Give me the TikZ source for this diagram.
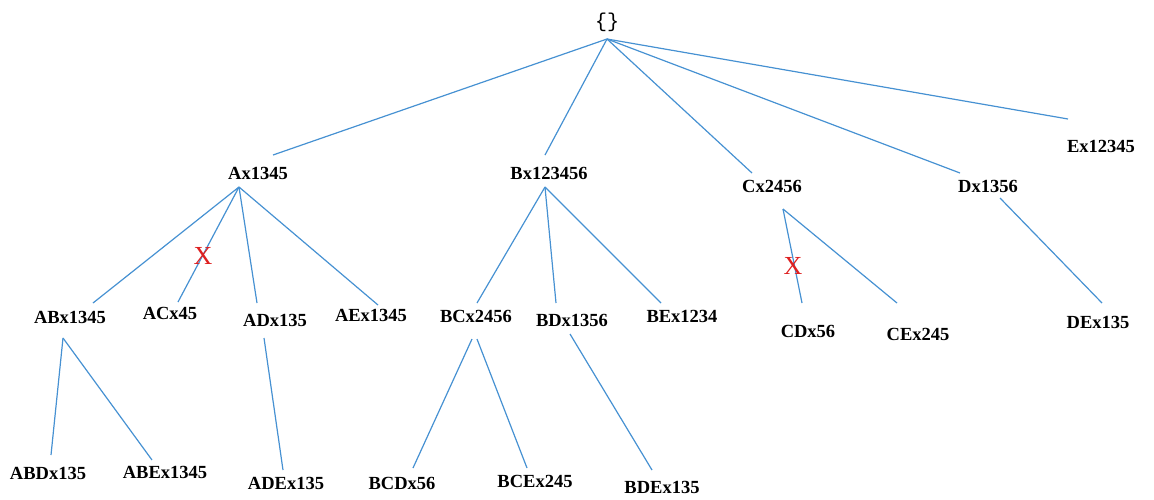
\documentclass[tikz,border=0pt]{standalone}
\usepackage{fontspec}
\setmainfont{Liberation Serif}
\newfontfamily\bracefont{Liberation Mono}
\begin{document}
\begin{tikzpicture}[x=1pt,y=-1pt,
  lbl/.style={inner sep=0pt,anchor=center,font=\fontsize{18.5}{22}\selectfont\bfseries},
  cut/.style={inner sep=0pt,anchor=center,text={rgb,255:red,222;green,32;blue,32},font=\fontsize{26}{28}\selectfont},
  edge/.style={draw={rgb,255:red,70;green,145;blue,210},line width=1.2pt}]
\useasboundingbox (0,0) rectangle (1154,499);

% labels
\node[inner sep=0pt,font=\bracefont\fontsize{20}{22}\selectfont] (root) at (607,22) {\{\}};
\node[lbl] (A) at (258,173) {Ax1345};
\node[lbl] (B) at (549,173) {Bx123456};
\node[lbl] (C) at (772,186) {Cx2456};
\node[lbl] (D) at (988,186) {Dx1356};
\node[lbl] (E) at (1101,146) {Ex12345};
\node[lbl] (AB) at (70,317) {ABx1345};
\node[lbl] (AC) at (170,313) {ACx45};
\node[lbl] (AD) at (275,320) {ADx135};
\node[lbl] (AE) at (371,315) {AEx1345};
\node[lbl] (BC) at (476,316) {BCx2456};
\node[lbl] (BD) at (572,320) {BDx1356};
\node[lbl] (BE) at (682,316) {BEx1234};
\node[lbl] (CD) at (808,331) {CDx56};
\node[lbl] (CE) at (918,334) {CEx245};
\node[lbl] (DE) at (1098,322) {DEx135};
\node[lbl] (ABD) at (48,473) {ABDx135};
\node[lbl] (ABE) at (165,472) {ABEx1345};
\node[lbl] (ADE) at (286,483) {ADEx135};
\node[lbl] (BCD) at (402,483) {BCDx56};
\node[lbl] (BCE) at (535,481) {BCEx245};
\node[lbl] (BDE) at (662,487) {BDEx135};

% connector end points
\coordinate (root-o) at (607,39);
\coordinate (A-i) at (273,155);
\coordinate (B-i) at (545,155);
\coordinate (C-i) at (752,173);
\coordinate (D-i) at (960,173);
\coordinate (E-i) at (1068,119);
\coordinate (A-o) at (239,187);
\coordinate (AB-i) at (93,303);
\coordinate (AC-i) at (178,302);
\coordinate (AD-i) at (257,303);
\coordinate (AE-i) at (378,305);
\coordinate (AB-o) at (63,338);
\coordinate (ABD-i) at (51,455);
\coordinate (ABE-i) at (152,460);
\coordinate (AD-o) at (264,338);
\coordinate (ADE-i) at (283,470);
\coordinate (B-o) at (545,187);
\coordinate (BC-i) at (477,303);
\coordinate (BD-i) at (556,303);
\coordinate (BE-i) at (661,303);
\coordinate (BC-o1) at (472,339);
\coordinate (BC-o2) at (477,339);
\coordinate (BCD-i) at (413,468);
\coordinate (BCE-i) at (527,468);
\coordinate (BD-o) at (570,334);
\coordinate (BDE-i) at (652,470);
\coordinate (C-o) at (783,209);
\coordinate (CD-i) at (802,303);
\coordinate (CE-i) at (897,303);
\coordinate (D-o) at (1000,198);
\coordinate (DE-i) at (1102,303);

% tree edges
\foreach \t in {A,B,C,D,E} \draw[edge] (root-o) -- (\t-i);
\foreach \t in {AB,AC,AD,AE} \draw[edge] (A-o) -- (\t-i);
\draw[edge] (AB-o) -- (ABD-i);
\draw[edge] (AB-o) -- (ABE-i);
\draw[edge] (AD-o) -- (ADE-i);
\foreach \t in {BC,BD,BE} \draw[edge] (B-o) -- (\t-i);
\draw[edge] (BC-o1) -- (BCD-i);
\draw[edge] (BC-o2) -- (BCE-i);
\draw[edge] (BD-o) -- (BDE-i);
\draw[edge] (C-o) -- (CD-i);
\draw[edge] (C-o) -- (CE-i);
\draw[edge] (D-o) -- (DE-i);

% pruned branches
\node[cut] (xAC) at (203,256) {X};
\node[cut] (xCD) at (793,266) {X};
\end{tikzpicture}
\end{document}
